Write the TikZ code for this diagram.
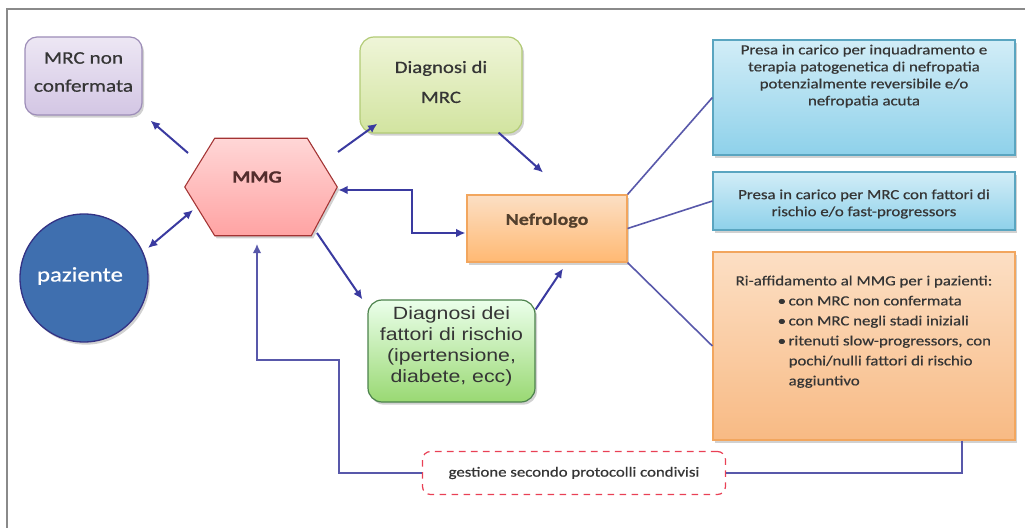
\documentclass[tikz,border=0pt]{standalone}
\usepackage{fontspec}
\setmainfont[FakeStretch=1.2,FakeBold=0.6]{Carlito}
\newfontfamily\arialf[FakeStretch=1.2]{Liberation Sans}
\usetikzlibrary{shadows,arrows.meta,calc}
\definecolor{arrc}{HTML}{3A3AA0}
\definecolor{linc}{HTML}{5858AA}
\definecolor{txtc}{HTML}{353535}
\definecolor{framec}{HTML}{8A8A8A}
\definecolor{bluetop}{HTML}{D2EDF7}
\definecolor{bluebot}{HTML}{8ED1EA}
\definecolor{bluebd}{HTML}{5AA5C0}
\definecolor{ortop}{HTML}{FCDFC4}
\definecolor{orbot}{HTML}{F8BA84}
\definecolor{orbd}{HTML}{F2A65E}
\definecolor{grtop}{HTML}{EFF5D8}
\definecolor{grbot}{HTML}{D2E4A0}
\definecolor{grbd}{HTML}{B2CB76}
\definecolor{putop}{HTML}{EDE7F4}
\definecolor{pubot}{HTML}{D3C6E4}
\definecolor{pubd}{HTML}{9D8DB8}
\begin{document}
\begin{tikzpicture}[x=0.75pt,y=-0.75pt,
  shad/.style={drop shadow={shadow xshift=1.5pt,shadow yshift=-2pt,opacity=0.3,fill=black!60}},
  purplebox/.style={shad,rounded corners=9pt,draw=pubd,line width=0.9pt,top color=putop,bottom color=pubot,minimum width=87.75pt,minimum height=58.5pt},
  greenbox/.style={shad,rounded corners=10.5pt,draw=grbd,line width=0.9pt,top color=grtop,bottom color=grbot,minimum width=121.5pt,minimum height=72pt},
  hexst/.style={shad,draw=red!55!black!80,line width=0.8pt,top color=red!16,bottom color=red!36},
  patst/.style={shad,circle,draw=blue!40!black!80,line width=1pt,fill={rgb,255:red,63;green,111;blue,175},minimum size=96pt},
  nefst/.style={shad,draw=orbd,line width=0.8pt,top color=ortop,bottom color=orange!55,minimum width=120pt,minimum height=50.25pt},
  fatst/.style={shad,rounded corners=10.5pt,draw=green!30!black!70,line width=0.9pt,top color=green!8!white,bottom color=green!45!olive!55,minimum width=125.25pt,minimum height=76.5pt},
  bluest/.style={shad,draw=bluebd,line width=0.9pt,top color=bluetop,bottom color=bluebot,minimum width=226.5pt},
  orst/.style={shad,draw=orbd,line width=0.9pt,top color=ortop,bottom color=orbot,minimum width=226.5pt,minimum height=141pt},
  dashst/.style={draw=red!55!purple!75,dashed,dash pattern=on 5pt off 4pt,line width=0.9pt,rounded corners=6pt,fill=white,minimum width=227.25pt,minimum height=32.25pt},
  tx/.style={inner sep=0pt,align=center,text=txtc,font=\fontsize{13}{21}\selectfont},
  smalltx/.style={inner sep=0pt,text=txtc,font=\fontsize{10.5}{12.75}\selectfont},
  arr/.style={draw=arrc,line width=1.5pt,-{Latex[length=7pt,width=6.5pt]}},
  darr/.style={draw=arrc,line width=1.5pt,{Latex[length=7pt,width=6.5pt]}-{Latex[length=7pt,width=6.5pt]}},
  lin/.style={draw=linc,line width=1.2pt}
]
\useasboundingbox (0,0) rectangle (1025,528);
% frame
\draw[framec,line width=2pt] (7,528) -- (7,9) -- (1025,9);

% nodes
\node[purplebox] (mrcno) at (83.5,76) {};
\node[tx,font=\fontsize{13.3}{21}\selectfont] (mrcnotxt) at ([shift={(0,-4)}]mrcno.center) {MRC non\\confermata};

\node[greenbox] (diagmrc) at (441,85) {};
\node[tx,font=\fontsize{13}{22.5}\selectfont] (diagmrctxt) at ([shift={(0,-3)}]diagmrc.center) {Diagnosi di\\MRC};

\node[inner sep=0pt,minimum width=114pt,minimum height=72.75pt] (mmg) at (261,187) {};
\shade[hexst] (mmg.west) -- ($(mmg.north west)+(30,0)$) -- ($(mmg.north east)+(-30,0)$) -- (mmg.east) -- ($(mmg.south east)+(-26,0)$) -- ($(mmg.south west)+(30,0)$) -- cycle;
\node[tx,font=\bfseries\fontsize{13}{16}\selectfont,text=txtc!85!red] (mmgtxt) at ([shift={(-4,-10)}]mmg.center) {MMG};

\node[patst] (paz) at (84,278) {};
\node[inner sep=0pt,text=white,font=\fontsize{15.5}{18}\selectfont] (paztxt) at ([shift={(-4,-2)}]paz.center) {paziente};

\node[nefst] (nefro) at (547,228.5) {};
\node[tx,font=\bfseries\fontsize{12.5}{16}\selectfont,text=txtc!85!orange] (nefrotxt) at ([shift={(0,-8)}]nefro.center) {Nefrologo};

\node[fatst] (diagfr) at (451.5,351) {};
\node[tx,font=\arialf\fontsize{13.3}{15.75}\selectfont] (diagfrtxt) at ([shift={(0,-5)}]diagfr.center) {Diagnosi dei\\fattori di rischio\\(ipertensione,\\diabete, ecc)};

\node[bluest,minimum height=86.25pt] (blue1) at (864,97.5) {};
\node[smalltx,align=center,anchor=north] (blue1txt) at ([shift={(0,5)}]blue1.north) {Presa in carico per inquadramento e\\terapia patogenetica di nefropatia\\potenzialmente reversibile e/o\\nefropatia acuta};

\node[bluest,minimum height=43.5pt] (blue2) at (864,201) {};
\node[smalltx,align=center] (blue2txt) at ([shift={(0,3)}]blue2.center) {Presa in carico per MRC con fattori di\\rischio e/o fast-progressors};

\node[orst] (orange2) at (864,346) {};
\node[smalltx,align=left,anchor=north,font=\fontsize{10.5}{15}\selectfont] (or2txt) at ([shift={(0,24)}]orange2.north) {Ri-affidamento al MMG per i pazienti:\\
\hspace*{31.5pt}\makebox[8.25pt][l]{\textbullet}con MRC non confermata\\
\hspace*{31.5pt}\makebox[8.25pt][l]{\textbullet}con MRC negli stadi iniziali\\
\hspace*{31.5pt}\makebox[8.25pt][l]{\textbullet}ritenuti slow-progressors, con\\
\hspace*{39.75pt}pochi/nulli fattori di rischio\\
\hspace*{39.75pt}aggiuntivo};

\node[dashst] (gest) at (574,473) {};
\node[smalltx] (gesttxt) at (gest.center) {gestione secondo protocolli condivisi};

% connectors
\draw[arr] ([shift={(-73,-34)}]mmg.center) -- ([shift={(8,5)}]mrcno.south east);
\draw[arr] ([shift={(77,-35)}]mmg.center) -- ([shift={(18,-10)}]diagmrc.south west);
\draw[arr] ([shift={(-24,-1)}]diagmrc.south east) -- ([shift={(-4,-22)}]nefro.north);
\draw[darr] ([shift={(64,-30)}]paz.center) -- ([shift={(-68,23)}]mmg.center);
\draw[darr] ([shift={(1,3)}]mmg.east) -- ++(74,0) |- ([shift={(-1,4.5)}]nefro.west);
\draw[arr] ([shift={(56,46)}]mmg.center) -- ([shift={(-5,0)}]diagfr.north west);
\draw[arr] ([shift={(0,10)}]diagfr.north east) -- ([shift={(16,6)}]nefro.south);
\draw[lin] (nefro.north east) -- (blue1.west);
\draw[lin] (nefro.east) -- (blue2.west);
\draw[lin] (nefro.south east) -- (orange2.west);
\draw[lin,line width=1.4pt] ([shift={(98,0)}]orange2.south) |- (gest.east);
\draw[arr,draw=linc] (gest.west) -- ++(-83,0) -- ++(0,-113) -| ([shift={(-4,8)}]mmg.south);
\end{tikzpicture}
\end{document}
